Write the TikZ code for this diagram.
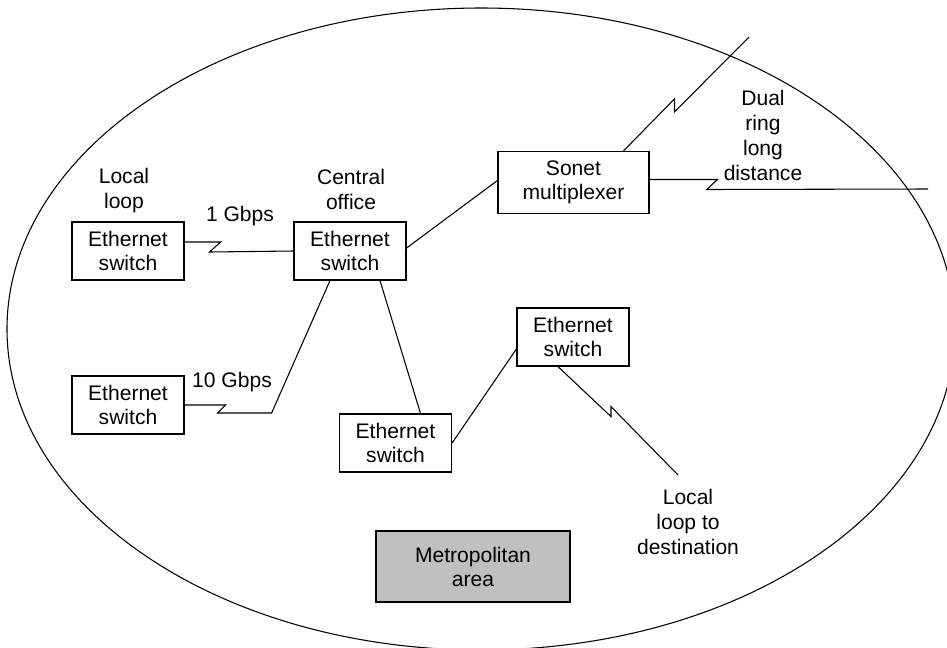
\documentclass[tikz,border=0pt]{standalone}
\usepackage{fontspec}
\setmainfont{Liberation Sans}
\usetikzlibrary{positioning,calc}
\definecolor{MetroGray}{HTML}{C0C0C0}

\begin{document}
\begin{tikzpicture}[
  x=0.75pt, y=-0.75pt,
  font=\fontsize{15.8}{18}\selectfont,
  % Ethernet switch / multiplexer box
  swbox/.style={draw, line width=0.9pt, fill=white,
                minimum width=84pt, minimum height=43.5pt,
                align=center, inner sep=2pt},
  % free text label
  lbl/.style={align=center, inner sep=0pt,
              font=\fontsize{15.8}{18.75}\selectfont},
  % area legend box
  area/.style={draw, line width=0.9pt, fill=MetroGray,
               minimum width=145.5pt, minimum height=53.25pt,
               align=center},
  % links
  link/.style={draw, line width=0.8pt},
]

\useasboundingbox (0,0) rectangle (947,647);
\clip (0,0) rectangle (947,647);

%% -- metropolitan area boundary ------------------------------------------
\draw[line width=0.8pt] (481,329) ellipse [x radius=474, y radius=321];

%% -- switches -------------------------------------------------------------
\node[swbox] (ll)    at (128,251)   {Ethernet\\switch};
\node[swbox] (co)    at (350,251)   {Ethernet\\switch};
\node[swbox, minimum width=113.25pt, minimum height=46.5pt]
             (sonet) at (573.5,182.5) {Sonet\\multiplexer};
\node[swbox] (tenE)  at (128,405)   {Ethernet\\switch};
\node[swbox] (bm)    at (395.5,443) {Ethernet\\switch};
\node[swbox] (rs)    at (573,337)   {Ethernet\\switch};
\node[area]  (metro) at (473,566.5) {Metropolitan\\area};

%% -- labels ----------------------------------------------------------------
\node[lbl] (llLbl)   at (124,191) {Local\\loop};
\node[lbl] (coLbl)   at (351,189) {Central\\office};
\node[lbl] (gig)     at (240,216) {1 Gbps};
\node[lbl] (tengig)  at (232,382) {10 Gbps};
\node[lbl] (ringLbl) at (763,135) {Dual\\ring\\long\\distance};
\node[lbl] (destLbl) at (688,522) {Local\\loop to\\destination};

%% -- free ends -------------------------------------------------------------
\coordinate (ringN) at (749,37);
\coordinate (ringE) at (928,189);
\coordinate (loopD) at (678,475);

%% -- links -----------------------------------------------------------------
\draw[link] ($(ll.east)+(0,-9)$) -- ++(36,0) -- ++(-11,10) -- (co.west);
\draw[link] (tenE.east) -- ++(41,0) -- ++(-8,8) -- ++(54,0)
  -- ($(co.south)+(-20,0)$);
\draw[link] ($(co.south)+(30,0)$) -- ($(bm.north)+(25,0)$);
\draw[link] ($(co.east)+(0,-3)$) -- ($(sonet.west)+(0,-2)$);
\draw[link] ($(sonet.north)+(50,0)$) -- ++(51,-52) -- ++(0,13) -- (ringN);
\draw[link] ($(sonet.east)+(0,-3)$) -- ++(68,0) -- ++(-11,10) -- (ringE);
\draw[link] ($(rs.west)+(0,12)$) -- (bm.east);
\draw[link] ($(rs.south)+(-15,0)$) -- ++(53,50) -- ++(0,-10) -- (loopD);

\end{tikzpicture}
\end{document}
